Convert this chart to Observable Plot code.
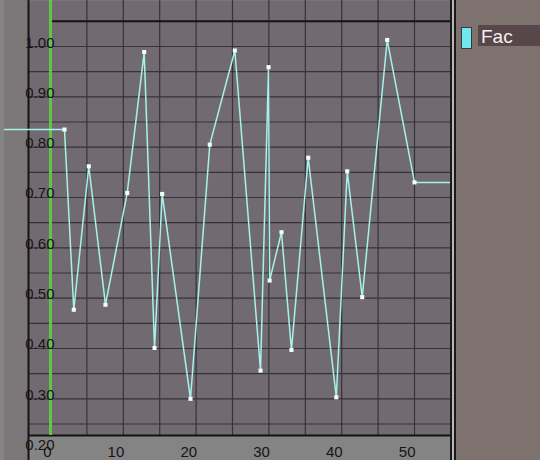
<!DOCTYPE html>
<html>
<head>
<meta charset="utf-8">
<script src="https://cdn.jsdelivr.net/npm/d3@7"></script>
<script src="https://cdn.jsdelivr.net/npm/@observablehq/plot@0.6"></script>
<style>
  html, body { margin: 0; padding: 0; background: #848484; }
  #wrap { position: relative; width: 540px; height: 460px; overflow: hidden; background: #848484; }
  #chart { position: absolute; left: 0; top: 0; }
  #panel { position: absolute; left: 450px; top: 0; width: 90px; height: 460px; background: #7e726f; }
  .vl { position: absolute; top: 0; height: 460px; }
  #swatch { position: absolute; left: 11px; top: 27px; width: 9px; height: 20px; background: #70e8f0; border: 1px solid #3a3a3a; }
  #fac { position: absolute; left: 28px; top: 25px; width: 62px; height: 21px; background: #57474a; }
  #fac span { position: absolute; left: 3px; top: 0px; font-family: "Liberation Sans", Arial, sans-serif; font-size: 19px; line-height: 24px; color: #f2f2f2; }
</style>
</head>
<body>
<div id="wrap">
  <div id="chart"></div>
  <div id="panel">
    <div class="vl" style="left:0;width:2px;background:#1a1a1a"></div>
    <div class="vl" style="left:2px;width:2px;background:#b8b8b8"></div>
    <div class="vl" style="left:4px;width:2px;background:#1a1a1a"></div>
    <div id="swatch"></div>
    <div id="fac"><span>Fac</span></div>
  </div>
</div>
<script>
// IPO curve "Fac": keyframe frames and values
const frames = [1.92, 3.2, 5.26, 7.55, 10.54, 12.87, 14.29, 15.34, 19.23, 21.88, 25.32, 28.85, 29.95, 30.1, 31.73, 33.1, 35.4, 39.26, 40.76, 42.82, 46.25, 50.0];
const values = [0.835, 0.477, 0.762, 0.487, 0.709, 0.989, 0.401, 0.707, 0.300, 0.805, 0.992, 0.356, 0.959, 0.535, 0.631, 0.397, 0.779, 0.303, 0.752, 0.502, 1.013, 0.730];
const xTicks = [0, 10, 20, 30, 40, 50];
const xTickLabels = ["0", "10", "20", "30", "40", "50"];
const yTicks = [0.2, 0.3, 0.4, 0.5, 0.6, 0.7, 0.8, 0.9, 1.0];
const yTickLabels = ["0.20", "0.30", "0.40", "0.50", "0.60", "0.70", "0.80", "0.90", "1.00"];
const gridX = [0, 5, 10, 15, 20, 25, 30, 35, 40, 45, 50];
const gridY = [0.25, 0.30, 0.35, 0.40, 0.45, 0.50, 0.55, 0.60, 0.65, 0.70, 0.75, 0.80, 0.85, 0.90, 0.95, 1.00];
const currentFrame = 0;
const boundValue = 1.05;

// view geometry (Blender IPO window)
const W = 450, H = 460, mL = 4, mB = 25;
const pxPerFrame = 7.28, frame0px = 50;
const pxPerUnit = 503.3, value1px = 46;
const xMin = (mL - frame0px) / pxPerFrame;
const xMax = (W - frame0px) / pxPerFrame;
const yMin = 1 - ((H - mB) - value1px) / pxPerUnit;
const yMax = 1 + value1px / pxPerUnit;
const viewLeft = (28 - frame0px) / pxPerFrame;

const points = frames.map((f, i) => ({f, v: values[i]}));
const curve = [{f: xMin, v: values[0]}, ...points, {f: xMax, v: values[values.length - 1]}];

const chart = Plot.plot({
  width: W, height: H,
  marginLeft: mL, marginRight: 0, marginTop: 0, marginBottom: mB,
  x: {domain: [xMin, xMax], axis: null},
  y: {domain: [yMin, yMax], axis: null},
  style: {background: "transparent", fontFamily: "Liberation Sans, Arial, sans-serif", fontSize: "15px", overflow: "visible"},
  marks: [
    Plot.frame({fill: "#716b71", stroke: "none"}),
    Plot.rect([{x1: xMin, x2: viewLeft}], {x1: "x1", x2: "x2", fill: "#7b7778", insetBottom: -mB}),
    Plot.ruleY(gridY, {y: d => d, x1: () => viewLeft, x2: () => xMax, stroke: "#37323a", strokeWidth: 1.2}),
    Plot.ruleX(gridX, {x: d => d, stroke: "#37323a", strokeWidth: 1.2}),
    Plot.ruleY([boundValue], {y: d => d, x1: () => currentFrame, x2: () => xMax, stroke: "#141214", strokeWidth: 2}),
    Plot.ruleX([viewLeft], {x: d => d, stroke: "#141214", strokeWidth: 2, insetBottom: -mB}),
    Plot.ruleY([yMin], {y: d => d, x1: () => viewLeft, x2: () => xMax, stroke: "#141214", strokeWidth: 2}),
    Plot.ruleX([currentFrame], {x: d => d, stroke: "#62c444", strokeWidth: 3}),
    Plot.line(curve, {x: "f", y: "v", stroke: "#a6f2ea", strokeWidth: 1.5}),
    Plot.dot(points, {x: "f", y: "v", symbol: "square", r: 2.3, fill: "#f4fff8", stroke: "none"}),
    Plot.text(yTicks, {y: d => d, text: (d, i) => yTickLabels[i], frameAnchor: "left", dx: 50, textAnchor: "end", lineAnchor: "bottom", dy: 1, fill: "#161416"}),
    Plot.text(xTicks, {x: d => d, text: (d, i) => xTickLabels[i], frameAnchor: "bottom", dx: 1, dy: 21, textAnchor: "end", lineAnchor: "bottom", fill: "#161416"})
  ]
});
document.getElementById("chart").appendChild(chart);
</script>
</body>
</html>
